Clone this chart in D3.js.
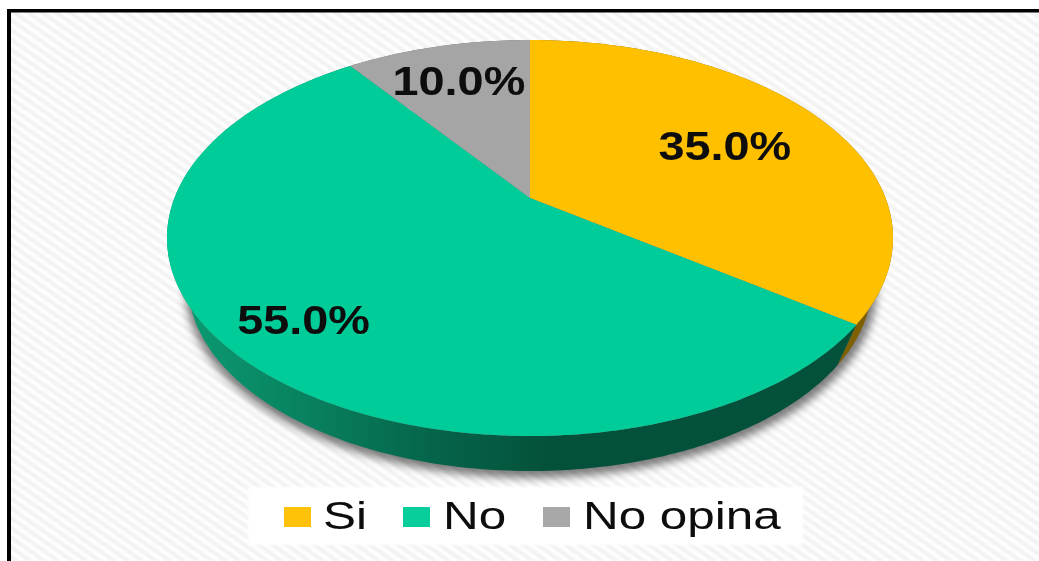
<!DOCTYPE html>
<html><head><meta charset="utf-8">
<style>html,body{margin:0;padding:0;background:#fff;overflow:hidden}svg{display:block}</style>
<script src="https://cdn.jsdelivr.net/npm/d3@7/dist/d3.min.js"></script>
</head><body><svg id="c" width="1039" height="561"></svg>
<script>
const categories = ["Si", "No", "No opina"];
const values = [35.0, 55.0, 10.0];
const sliceColors = ["#FFC000", "#00CC99", "#A5A5A5"];
const labelRadius = [0.65, 0.80, 0.745];

const W = 1039, H = 561;
const tilt = 0.202;
const topDisc = {cx:530, cy:238, rx:363, ry:198};
const lowDisc = {cx:530, cy:283, rx:342, ry:188};
const svg = d3.select("#c");
const defs = svg.append("defs");

const hatch = defs.append("pattern").attr("id","hatch").attr("patternUnits","userSpaceOnUse")
  .attr("width",16).attr("height",8).attr("patternTransform","rotate(35)");
hatch.append("rect").attr("width",16).attr("height",8).attr("fill","#ffffff");
hatch.append("rect").attr("width",16).attr("height",4).attr("fill","#f1f1f1");
defs.append("filter").attr("id","soft").append("feGaussianBlur").attr("stdDeviation",1);
const shF = defs.append("filter").attr("id","shadow").attr("x","-10%").attr("y","-10%").attr("width","120%").attr("height","120%");
shF.append("feGaussianBlur").attr("stdDeviation",4.5);
defs.append("filter").attr("id","txt").append("feGaussianBlur").attr("stdDeviation",0.45);

const grad = defs.append("linearGradient").attr("id","greenWall").attr("gradientUnits","userSpaceOnUse")
  .attr("x1",185).attr("x2",875).attr("y1",0).attr("y2",0);
[[0,"#0B9A72"],[0.17,"#08825F"],[0.37,"#056349"],[0.53,"#04513B"],[1,"#04513B"]]
  .forEach(s=>grad.append("stop").attr("offset",s[0]).attr("stop-color",s[1]));
const wallFill = ["#7F6000","url(#greenWall)","#6E6E6E"];

svg.append("rect").attr("width",W).attr("height",H).attr("fill","#fff");
svg.append("rect").attr("x",9).attr("y",11).attr("width",W-9).attr("height",H-11)
  .attr("fill","url(#hatch)").attr("filter","url(#soft)");
// frame
svg.append("rect").attr("x",7).attr("y",9).attr("width",W-7).attr("height",3.5).attr("fill","#000");
svg.append("rect").attr("x",7).attr("y",9).attr("width",4).attr("height",H-9).attr("fill","#000");

function project(d, a, r){
  const x = r*Math.sin(a), y = r*Math.cos(a), den = 1+tilt*y;
  const u = x*Math.sqrt(1-tilt*tilt)/den, v = (y+tilt)/den;
  const sx = d3.scaleLinear().domain([-1,1]).range([d.cx-d.rx,d.cx+d.rx]);
  const sy = d3.scaleLinear().domain([-1,1]).range([d.cy+d.ry,d.cy-d.ry]);
  return [sx(u), sy(v)];
}
const pieGen = d3.pie().sort(null).value(d=>d).startAngle(0).endAngle(2*Math.PI);
const arcs = pieGen(values);
const line = d3.line();
const samples = (a0,a1)=>{const n=Math.max(8,Math.ceil((a1-a0)*60));return d3.range(n+1).map(i=>a0+(a1-a0)*i/n);};

// drop shadow
svg.append("ellipse").attr("cx",lowDisc.cx+1).attr("cy",lowDisc.cy+5).attr("rx",lowDisc.rx+4).attr("ry",lowDisc.ry+2)
  .attr("fill","#000").attr("opacity",0.5).attr("filter","url(#shadow)");

// walls
svg.append("g").selectAll("path").data(arcs).join("path")
  .attr("fill",(d,i)=>wallFill[i])
  .attr("d",d=>{
    const as = samples(d.startAngle,d.endAngle);
    return line(as.map(a=>project(topDisc,a,1)).concat(as.slice().reverse().map(a=>project(lowDisc,a,1))))+"Z";
  });
// tops
svg.append("g").selectAll("path").data(arcs).join("path")
  .attr("fill",(d,i)=>sliceColors[i])
  .attr("d",d=>{
    const as = samples(d.startAngle,d.endAngle);
    return line([project(topDisc,0,0)].concat(as.map(a=>project(topDisc,a,1))))+"Z";
  });

// value labels
const fmt = d3.format(".1f");
svg.append("g").selectAll("text").data(arcs).join("text")
  .attr("transform",(d,i)=>{
    const p = project(topDisc,(d.startAngle+d.endAngle)/2,labelRadius[i]);
    return `translate(${p[0]+0.5},${p[1]+14.5}) scale(1.17,1)`;
  })
  .attr("text-anchor","middle").attr("font-family","Liberation Sans").attr("font-weight","bold")
  .attr("font-size",40).attr("fill","#0a0a0a").attr("filter","url(#txt)")
  .text(d=>fmt(d.value)+"%");

// legend
svg.append("rect").attr("x",248).attr("y",487).attr("width",555).attr("height",58).attr("fill","#fff").attr("filter","url(#soft)");
const swatchX = d3.scaleOrdinal().domain(categories).range([284,403,543]);
const textX = d3.scaleOrdinal().domain(categories).range([323,443,583]);
const lg = svg.append("g").selectAll("g").data(categories).join("g");
lg.append("rect").attr("x",d=>swatchX(d)).attr("y",507).attr("width",27).attr("height",20)
  .attr("fill",(d,i)=>sliceColors[i]).attr("opacity",0.97);
lg.append("text").attr("transform",d=>`translate(${textX(d)},529) scale(1.3,1)`)
  .attr("font-family","Liberation Sans").attr("font-size",38).attr("fill","#0a0a0a").attr("filter","url(#txt)")
  .text(d=>d);
</script></body></html>
